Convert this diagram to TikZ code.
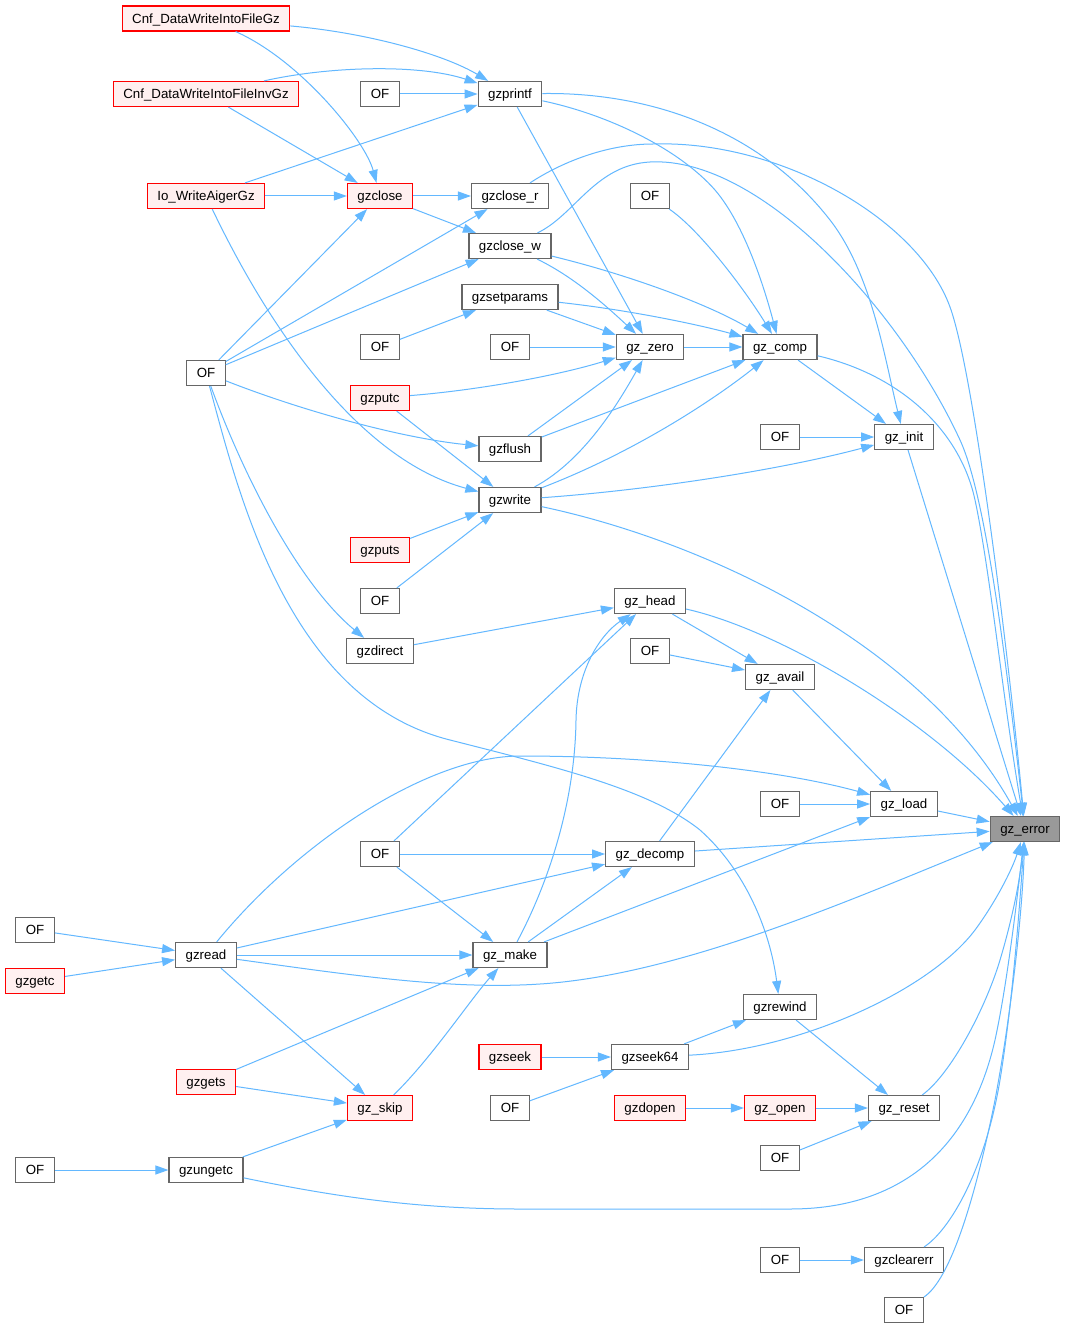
\documentclass[tikz,border=0pt]{standalone}
\usepackage{fontspec}
\setmainfont{Liberation Sans}
\usetikzlibrary{arrows.meta}
\definecolor{edgec}{HTML}{63B8FF}
\definecolor{nodeb}{HTML}{666666}
\definecolor{redb}{HTML}{FF0000}
\definecolor{redf}{HTML}{FFF0F0}
\definecolor{errf}{HTML}{999999}
\begin{document}
\begin{tikzpicture}[x=1pt,y=-1pt,
 fn/.style={draw=nodeb, line width=1.2pt, fill=white, inner xsep=10pt, inner ysep=0pt, minimum height=25pt, text height=9.6pt, text depth=0.4pt, font=\fontsize{13.3}{15}\selectfont},
 rfn/.style={fn, draw=redb, fill=redf},
 efn/.style={fn, fill=errf},
 link/.style={draw=edgec, line width=1pt, -{Triangle[length=13pt,width=9pt]}}]
\useasboundingbox[fill=white] (0,0) rectangle (1065,1329);
% nodes
\node[rfn] (cnfgz) at (206,18.5) {Cnf\_DataWriteIntoFileGz};
\node[rfn] (cnfinv) at (206,94) {Cnf\_DataWriteIntoFileInvGz};
\node[fn] (ofa) at (380,94) {OF};
\node[fn] (gzprintf) at (510,94) {gzprintf};
\node[rfn] (io) at (206,196) {Io\_WriteAigerGz};
\node[rfn] (gzclose) at (380,196) {gzclose};
\node[fn] (gzcloser) at (510,196) {gzclose\_r};
\node[fn] (ofb) at (650,196) {OF};
\node[fn] (gzclosew) at (510,246) {gzclose\_w};
\node[fn] (gzsetparams) at (510,297) {gzsetparams};
\node[fn] (ofc) at (380,347) {OF};
\node[fn] (ofd) at (510,347) {OF};
\node[fn] (gzzero) at (650,347) {gz\_zero};
\node[fn] (gzcomp) at (780,347) {gz\_comp};
\node[fn] (ofbig) at (206,373) {OF};
\node[rfn] (gzputc) at (380,398) {gzputc};
\node[fn] (ofe) at (780,437) {OF};
\node[fn] (gzinit) at (904,437) {gz\_init};
\node[fn] (gzflush) at (510,449) {gzflush};
\node[fn] (gzwrite) at (510,500) {gzwrite};
\node[rfn] (gzputs) at (380,550) {gzputs};
\node[fn] (off) at (380,601) {OF};
\node[fn] (gzhead) at (650,601) {gz\_head};
\node[fn] (gzdirect) at (380,651) {gzdirect};
\node[fn] (ofg) at (650,651) {OF};
\node[fn] (gzavail) at (780,677) {gz\_avail};
\node[fn] (ofh) at (780,804) {OF};
\node[fn] (gzload) at (904,804) {gz\_load};
\node[efn] (gzerror) at (1025,829) {gz\_error};
\node[fn] (ofi) at (380,854) {OF};
\node[fn] (gzdecomp) at (650,854) {gz\_decomp};
\node[fn] (ofj) at (35,930) {OF};
\node[fn] (gzread) at (206,955) {gzread};
\node[rfn] (gzgetc) at (35,981) {gzgetc};
\node[fn] (gzmake) at (510,955) {gz\_make};
\node[fn] (gzrewind) at (780,1007) {gzrewind};
\node[rfn] (gzseek) at (510,1057) {gzseek};
\node[fn] (gzseek64) at (650,1057) {gzseek64};
\node[rfn] (gzgets) at (206,1082) {gzgets};
\node[rfn] (gzskip) at (380,1108) {gz\_skip};
\node[fn] (ofk) at (510,1108) {OF};
\node[rfn] (gzdopen) at (650,1108) {gzdopen};
\node[rfn] (gzopen) at (780,1108) {gz\_open};
\node[fn] (gzreset) at (904,1108) {gz\_reset};
\node[fn] (ofl) at (780,1158) {OF};
\node[fn] (ofm) at (35,1170) {OF};
\node[fn] (gzungetc) at (206,1170) {gzungetc};
\node[fn] (ofn) at (780,1260) {OF};
\node[fn] (gzclearerr) at (904,1260) {gzclearerr};
\node[fn] (ofo) at (904,1310) {OF};
% edges
\draw[link] (cnfgz) .. controls (370,33) and (445,55) .. (gzprintf);
\draw[link] (cnfgz) .. controls (300,60) and (365,140) .. (gzclose);
\draw[link] (cnfinv) .. controls (330,66) and (420,64) .. (gzprintf);
\draw[link] (cnfinv) -- (gzclose);
\draw[link] (ofa) -- (gzprintf);
\draw[link] (io) -- (gzprintf);
\draw[link] (io) -- (gzclose);
\draw[link] (io) .. controls (270,330) and (360,460) .. (gzwrite);
\draw[link] (gzclose) -- (gzcloser);
\draw[link] (gzclose) -- (gzclosew);
\draw[link] (ofbig) -- (gzclose);
\draw[link] (ofbig) -- (gzcloser);
\draw[link] (ofbig) -- (gzclosew);
\draw[link] (ofbig) .. controls (300,410) and (400,438) .. (gzflush);
\draw[link] (ofbig) .. controls (245,480) and (300,585) .. (gzdirect);
\draw[link] (ofbig) .. controls (240,500) and (290,700) .. (450,740) .. controls (560,768) and (650,790) .. (700,830) .. controls (745,870) and (770,930) .. (gzrewind);
\draw[link] (gzcloser) .. controls (565,160) and (610,144) .. (653,144) .. controls (780,140) and (918,219) .. (950,307) .. controls (974,373) and (1008,650) .. (gzerror);
\draw[link] (gzclosew) .. controls (575,215) and (595,165) .. (650,162) .. controls (760,156) and (900,310) .. (960,440) .. controls (985,494) and (1005,650) .. (gzerror);
\draw[link] (gzclosew) .. controls (630,275) and (710,305) .. (gzcomp);
\draw[link] (gzclosew) .. controls (570,275) and (600,300) .. (gzzero);
\draw[link] (gzprintf) .. controls (610,115) and (680,150) .. (715,190) .. controls (745,225) and (765,290) .. (gzcomp);
\draw[link] (gzprintf) -- (gzzero);
\draw[link] (gzprintf) .. controls (650,92) and (760,130) .. (830,220) .. controls (872,274) and (885,360) .. (gzinit);
\draw[link] (gzsetparams) -- (gzzero);
\draw[link] (gzsetparams) .. controls (630,310) and (700,325) .. (gzcomp);
\draw[link] (ofc) -- (gzsetparams);
\draw[link] (ofd) -- (gzzero);
\draw[link] (ofb) .. controls (700,230) and (745,290) .. (gzcomp);
\draw[link] (gzzero) -- (gzcomp);
\draw[link] (gzputc) .. controls (480,390) and (560,375) .. (gzzero);
\draw[link] (gzputc) -- (gzwrite);
\draw[link] (gzflush) -- (gzzero);
\draw[link] (gzflush) -- (gzcomp);
\draw[link] (gzwrite) .. controls (585,460) and (620,400) .. (gzzero);
\draw[link] (gzwrite) .. controls (640,450) and (720,395) .. (gzcomp);
\draw[link] (gzwrite) .. controls (650,490) and (780,470) .. (gzinit);
\draw[link] (gzwrite) .. controls (700,540) and (920,640) .. (gzerror);
\draw[link] (gzcomp) -- (gzinit);
\draw[link] (gzcomp) .. controls (900,375) and (960,430) .. (975,500) .. controls (990,570) and (1003,700) .. (gzerror);
\draw[link] (ofe) -- (gzinit);
\draw[link] (gzinit) -- (gzerror);
\draw[link] (gzputs) -- (gzwrite);
\draw[link] (off) -- (gzwrite);
\draw[link] (gzdirect) -- (gzhead);
\draw[link] (gzhead) -- (gzavail);
\draw[link] (gzhead) .. controls (780,630) and (930,720) .. (gzerror);
\draw[link] (ofg) -- (gzavail);
\draw[link] (gzavail) -- (gzload);
\draw[link] (gzdecomp) -- (gzavail);
\draw[link] (gzread) .. controls (300,840) and (430,756) .. (520,756) .. controls (650,756) and (780,770) .. (gzload);
\draw[link] (ofh) -- (gzload);
\draw[link] (gzload) -- (gzerror);
\draw[link] (ofi) -- (gzhead);
\draw[link] (ofi) -- (gzdecomp);
\draw[link] (ofi) -- (gzmake);
\draw[link] (gzdecomp) -- (gzerror);
\draw[link] (gzmake) .. controls (550,880) and (575,800) .. (576,720) .. controls (577,670) and (600,635) .. (gzhead);
\draw[link] (gzmake) -- (gzdecomp);
\draw[link] (gzmake) -- (gzload);
\draw[link] (gzread) -- (gzdecomp);
\draw[link] (gzread) -- (gzmake);
\draw[link] (gzread) .. controls (350,975) and (450,990) .. (540,984) .. controls (680,975) and (850,900) .. (gzerror);
\draw[link] (gzread) -- (gzskip);
\draw[link] (ofj) -- (gzread);
\draw[link] (gzgetc) -- (gzread);
\draw[link] (gzgets) -- (gzmake);
\draw[link] (gzgets) -- (gzskip);
\draw[link] (gzskip) .. controls (430,1060) and (470,1000) .. (gzmake);
\draw[link] (gzungetc) -- (gzskip);
\draw[link] (gzungetc) .. controls (350,1200) and (430,1209) .. (520,1209) -- (790,1209) .. controls (900,1209) and (970,1150) .. (995,1040) .. controls (1007,985) and (1017,900) .. (gzerror);
\draw[link] (ofm) -- (gzungetc);
\draw[link] (gzseek) -- (gzseek64);
\draw[link] (ofk) -- (gzseek64);
\draw[link] (gzseek64) -- (gzrewind);
\draw[link] (gzseek64) .. controls (800,1050) and (930,990) .. (975,930) .. controls (995,903) and (1012,870) .. (gzerror);
\draw[link] (gzrewind) -- (gzreset);
\draw[link] (gzdopen) -- (gzopen);
\draw[link] (gzopen) -- (gzreset);
\draw[link] (ofl) -- (gzreset);
\draw[link] (gzreset) .. controls (950,1075) and (985,1010) .. (1000,960) .. controls (1012,920) and (1020,880) .. (gzerror);
\draw[link] (gzclearerr) .. controls (950,1230) and (985,1170) .. (1000,1080) .. controls (1013,1000) and (1020,900) .. (gzerror);
\draw[link] (ofn) -- (gzclearerr);
\draw[link] (ofo) .. controls (950,1280) and (975,1200) .. (995,1100) .. controls (1010,1020) and (1022,920) .. (gzerror);
\end{tikzpicture}
\end{document}
